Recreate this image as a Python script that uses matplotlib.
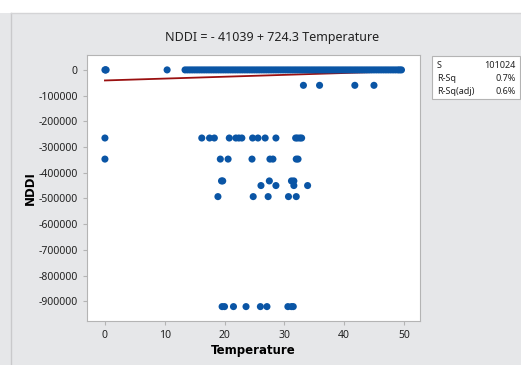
import matplotlib.pyplot as plt
from matplotlib.patches import Rectangle
from matplotlib.lines import Line2D

plt.rcParams['font.family'] = ['Noto Sans', 'DejaVu Sans']

# 数据: 温度与NDDI
zero_temp = [0.0, 0.1, 0.2, 10.4,
             13.4, 13.8, 14.2, 14.6, 15.0, 15.4, 15.8, 16.2, 16.6, 17.0,
             17.4, 17.8, 18.2, 18.6, 19.0, 19.4, 19.8, 20.2, 20.6, 21.0,
             21.4, 21.8, 22.2, 22.6, 23.0, 23.4, 23.8, 24.2, 24.6, 25.0,
             25.4, 25.8, 26.2, 26.6, 27.0, 27.4, 27.8, 28.2, 28.6, 29.0,
             29.4, 29.8, 30.2, 30.6, 31.0, 31.4, 31.8, 32.2, 32.6, 33.0,
             33.4, 33.8, 34.2, 34.6, 35.0, 35.4, 35.8, 36.2, 36.6, 37.0,
             37.4, 37.8, 38.2, 38.6, 39.0, 39.4, 39.8, 40.2, 40.6, 41.0,
             41.4, 41.8, 42.2, 42.6, 43.0, 43.4, 43.8, 44.2, 44.6, 45.0,
             45.4, 45.8, 46.2, 46.6, 47.0, 47.4, 47.8, 48.2, 48.6, 49.0,
             49.3, 49.6]
zero_nddi = [0] * len(zero_temp)

other_temp = [33.2, 35.9, 41.8, 45.0,
              0.0, 16.2, 17.5, 18.3, 20.8, 21.9, 22.4, 22.9, 24.7, 25.6,
              26.8, 28.6, 31.9, 32.2, 32.6, 32.9,
              0.0, 19.3, 20.6, 24.6, 27.6, 28.1, 32.0, 32.3,
              19.5, 19.7, 27.5, 31.2, 31.6,
              26.1, 28.6, 31.6, 33.9,
              18.9, 24.8, 27.3, 30.7, 32.0,
              19.6, 20.0, 21.5, 23.6, 26.0, 27.1, 30.6, 31.2, 31.5]
other_nddi = [-60000] * 4 + [-265000] * 16 + [-347000] * 8 + \
             [-432000] * 5 + [-450000] * 4 + [-493000] * 5 + [-921000] * 9

b0 = -41039
b1 = 724.3
s_val = "101024"
rsq = "0.7%"
rsq_adj = "0.6%"

blue = '#0a55a5'
fig = plt.figure(figsize=(5.21, 3.65), dpi=100)
fig.patch.set_facecolor('white')
# 灰色背景面板
fig.patches.append(Rectangle((0, 0), 1, 1 - 13/365, transform=fig.transFigure,
                             facecolor='#e6e7e9', edgecolor='none', zorder=-10))
fig.lines.append(Line2D([11/521, 11/521], [0, 1 - 13/365], transform=fig.transFigure,
                        color='#c9c9cb', lw=1, zorder=-9))
fig.lines.append(Line2D([11/521, 1], [1 - 13/365, 1 - 13/365], transform=fig.transFigure,
                        color='#d4d4d6', lw=1, zorder=-9))

ax = fig.add_axes([87/521, 1 - 321/365, 333/521, 266/365])
ax.set_facecolor('white')

xs = [0, 49.6]
ax.plot(xs, [b0 + b1 * x for x in xs], color='#9a1010', lw=1.3, zorder=2)
ax.scatter(zero_temp, zero_nddi, s=26, color=blue, edgecolor='none', zorder=3)
ax.scatter(other_temp, other_nddi, s=26, color=blue, edgecolor='none', zorder=3)

ax.set_xlim(-3, 52.7)
ax.set_ylim(-977000, 58000)
ax.set_xticks([0, 10, 20, 30, 40, 50])
ax.set_yticks(range(-900000, 1, 100000))
ax.set_yticklabels([str(v) for v in range(-900000, 1, 100000)])

for sp in ax.spines.values():
    sp.set_color('#b4b4b4')
ax.tick_params(axis='both', which='major', labelsize=7.5, colors='#b4b4b4',
               labelcolor='#222222', length=3, width=0.8)

fig.text(272/521, 1 - 38/365, "NDDI = - 41039 + 724.3 Temperature",
         ha='center', va='center', fontsize=9, color='#222222')
ax.set_xlabel("Temperature", fontsize=8.5, fontweight='bold', labelpad=2,
              family='DejaVu Sans')
ax.set_ylabel("NDDI", fontsize=8.5, fontweight='bold', labelpad=1,
              family='DejaVu Sans')

# 统计量框
fig.patches.append(Rectangle((432/521, 1 - 99/365), 88/521, 43/365,
                             transform=fig.transFigure, facecolor='white',
                             edgecolor='#b4b4b4', lw=0.8, zorder=1))
rows = [("S", s_val), ("R-Sq", rsq), ("R-Sq(adj)", rsq_adj)]
for i, (k, v) in enumerate(rows):
    yy = 1 - (65 + i * 13.5) / 365
    fig.text(437/521, yy, k, ha='left', va='center', fontsize=6.5, color='#222222', zorder=2)
    fig.text(516/521, yy, v, ha='right', va='center', fontsize=6.5, color='#222222', zorder=2)

plt.savefig('out.png', dpi=100)
